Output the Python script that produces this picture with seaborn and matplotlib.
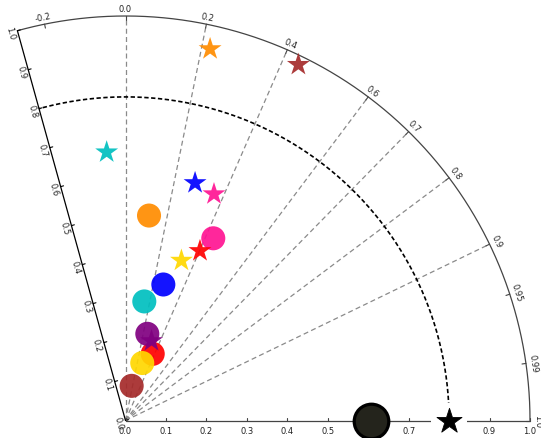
import numpy as np
import pandas as pd
import matplotlib
matplotlib.use("Agg")
import matplotlib.pyplot as plt
import seaborn as sns

# ---- data -------------------------------------------------------------
models = ["M1", "M2", "M3", "M4", "M5", "M6", "M7", "M8"]
colors = ["#FF8C00", "#A52A2A", "#00BFBF", "#0000FF",
          "#FF1493", "#FF0000", "#FFD700", "#800080"]

# experiment A (stars)
star_std = [0.942, 0.978, 0.665, 0.612, 0.601, 0.458, 0.419, 0.207]
star_corr = [0.222, 0.437, -0.070, 0.281, 0.364, 0.402, 0.330, 0.311]
# experiment B (circles)
circ_std = [0.510, 0.087, 0.298, 0.349, 0.500, 0.178, 0.148, 0.221]
circ_corr = [0.114, 0.175, 0.156, 0.268, 0.434, 0.378, 0.280, 0.244]

ref_std = 0.80          # observation (reference star)
sim_ref_std = 0.607     # black circle on the x axis
sim_ref_corr = 1.0

corr_ticks = [-0.2, 0.0, 0.2, 0.4, 0.6, 0.7, 0.8, 0.9, 0.95, 0.99, 1.0]
corr_grid = [0.0, 0.2, 0.4, 0.6, 0.7, 0.8, 0.9]
std_ticks = [0.0, 0.1, 0.2, 0.3, 0.4, 0.5, 0.6, 0.7, 0.8, 0.9, 1.0]
theta_max_deg = 105.5

# ---- figure -------------------------------------------------------------
sns.set_theme(style="white")
plt.rcParams["font.family"] = ["DejaVu Sans"]

W, H = 541, 439
fig = plt.figure(figsize=(W / 100, H / 100), dpi=100)
ax = fig.add_axes([0, 0, 1, 1])
ox, oy, scale = 125.5, 421.5, 404.5       # origin pixel and px per unit
ax.set_xlim(-ox / scale, (W - ox) / scale)
ax.set_ylim(-(H - oy) / scale, oy / scale)
ax.set_aspect("equal")
ax.axis("off")

px = 1.0 / scale
tmax = np.deg2rad(theta_max_deg)
txt = dict(fontsize=6, color="#222222", ha="center", va="center")

# outer correlation arc
t = np.linspace(0, tmax, 400)
ax.plot(np.cos(t), np.sin(t), color="#444444", lw=0.9, zorder=2)
# left spine (std axis)
ax.plot([0, np.cos(tmax)], [0, np.sin(tmax)], color="black", lw=0.9, zorder=2)
# x axis
ax.plot([0, 1], [0, 0], color="#444444", lw=0.9, zorder=2)

# reference std arc
ax.plot(ref_std * np.cos(t), ref_std * np.sin(t), color="black", lw=1.2,
        dashes=(2.6, 1.5), zorder=2)

# correlation rays
for c in corr_grid:
    a = np.arccos(c)
    ax.plot([0, np.cos(a)], [0, np.sin(a)], color="#8a8a8a", lw=0.9,
            dashes=(4, 2.6), zorder=1.5)

# correlation ticks and labels
for c in corr_ticks:
    a = np.arccos(c)
    ca, sa = np.cos(a), np.sin(a)
    ax.plot([ca * (1 - 4 * px), ca], [sa * (1 - 4 * px), sa], color="#444444",
            lw=0.8, zorder=2)
    r = 1 + 7.5 * px
    ax.text(r * ca, r * sa, f"{c:g}" if c not in (0.0, 1.0) else f"{c:.1f}",
            rotation=np.rad2deg(a) - 90, rotation_mode="anchor", **txt)

# std ticks along the left spine
cs, ss = np.cos(tmax), np.sin(tmax)
nx, ny = np.cos(tmax + np.pi / 2), np.sin(tmax + np.pi / 2)  # outward normal
for v in std_ticks:
    x0, y0 = v * cs, v * ss
    ax.plot([x0, x0 - nx * 3 * px], [y0, y0 - ny * 3 * px], color="black",
            lw=0.8, zorder=2)
    ax.text(x0 + nx * 7 * px, y0 + ny * 7 * px, f"{v:.1f}",
            rotation=theta_max_deg - 180, rotation_mode="anchor", **txt)

# std ticks along the x axis
for v in std_ticks:
    ax.plot([v, v], [0, 3 * px], color="#444444", lw=0.8, zorder=2)
    ax.text(v, -10 * px, f"{v:.1f}", **txt)

# ---- points ---------------------------------------------------------------
rows = []
for m, s1, c1, s2, c2 in zip(models, star_std, star_corr, circ_std, circ_corr):
    rows.append(dict(model=m, kind="A", std=s1, corr=c1))
    rows.append(dict(model=m, kind="B", std=s2, corr=c2))
df = pd.DataFrame(rows)
df["x"] = df["std"] * df["corr"]
df["y"] = df["std"] * np.sqrt(1 - df["corr"] ** 2)

sns.scatterplot(data=df, x="x", y="y", hue="model", style="kind",
                palette=dict(zip(models, colors)),
                markers={"A": "*", "B": "o"}, s=300, linewidth=0,
                alpha=0.92, legend=False, ax=ax, zorder=3)

ref = pd.DataFrame({"x": [sim_ref_std * sim_ref_corr, ref_std],
                    "y": [0.0, 0.0]})
sns.scatterplot(data=ref.iloc[[0]], x="x", y="y", marker="o", s=620,
                color="#24241c", edgecolor="black", linewidth=2.3,
                legend=False, ax=ax, zorder=4)
sns.scatterplot(data=ref.iloc[[1]], x="x", y="y", marker="s", s=700,
                color="white", linewidth=0, legend=False, ax=ax, zorder=4)
sns.scatterplot(data=ref.iloc[[1]], x="x", y="y", marker="*", s=360,
                color="black", edgecolor="black", linewidth=0.6,
                legend=False, ax=ax, zorder=5)

fig.savefig("out.png", dpi=100)
